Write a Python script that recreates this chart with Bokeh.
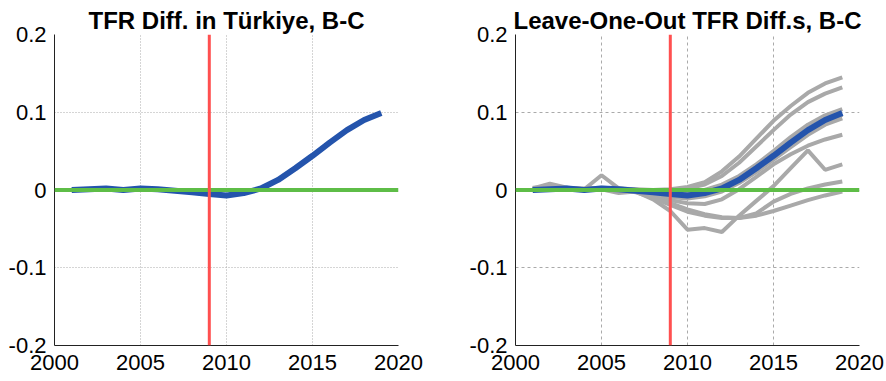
from bokeh.plotting import figure
from bokeh.layouts import row
from bokeh.models import Range1d, FixedTicker, Span
from bokeh.embed import file_html
from bokeh.resources import INLINE

# ---------------- data ----------------
years = list(range(2001, 2020))

tfr_diff = [0.000, 0.001, 0.002, 0.000, 0.002, 0.001, -0.001, -0.003, -0.005, -0.007,
            -0.004, 0.002, 0.013, 0.028, 0.044, 0.061, 0.077, 0.090, 0.099]

loo_1 = [0.003, 0.004, 0.002, 0.002, 0.003, 0.002, 0.001, 0.000, 0.001, 0.004,
         0.010, 0.024, 0.043, 0.066, 0.089, 0.108, 0.125, 0.137, 0.145]
loo_2 = [0.002, 0.008, 0.003, 0.001, 0.002, 0.001, 0.000, -0.001, 0.000, 0.002,
         0.007, 0.018, 0.035, 0.056, 0.077, 0.097, 0.113, 0.124, 0.132]
loo_3 = [0.001, 0.002, 0.003, 0.001, 0.019, 0.002, 0.000, -0.002, -0.003, -0.003,
         0.000, 0.007, 0.018, 0.033, 0.050, 0.068, 0.084, 0.096, 0.104]
loo_4 = [0.000, 0.001, 0.001, 0.000, 0.001, -0.004, -0.002, -0.005, -0.009, -0.011,
         -0.008, -0.002, 0.009, 0.023, 0.039, 0.055, 0.071, 0.084, 0.092]
loo_5 = [0.001, 0.002, 0.001, 0.001, 0.002, 0.001, -0.001, -0.003, -0.006, -0.008,
         -0.006, -0.001, 0.010, 0.025, 0.041, 0.058, 0.074, 0.087, 0.097]
loo_6 = [0.001, 0.000, 0.000, 0.001, 0.000, 0.000, -0.002, -0.007, -0.013, -0.017,
         -0.018, -0.012, 0.001, 0.017, 0.033, 0.046, 0.057, 0.065, 0.071]
loo_7 = [0.000, 0.001, 0.000, 0.001, 0.000, 0.000, -0.002, -0.012, -0.027, -0.051,
         -0.049, -0.054, -0.033, -0.014, 0.005, 0.028, 0.051, 0.026, 0.033]
loo_8 = [0.000, 0.000, 0.001, 0.000, 0.000, 0.000, -0.002, -0.008, -0.017, -0.025,
         -0.031, -0.035, -0.036, -0.030, -0.015, -0.005, 0.002, 0.007, 0.011]
loo_9 = [0.001, 0.000, 0.000, 0.000, 0.001, 0.000, -0.003, -0.010, -0.019, -0.028,
         -0.033, -0.036, -0.036, -0.033, -0.027, -0.020, -0.013, -0.007, -0.002]
loo_series = [loo_1, loo_2, loo_3, loo_4, loo_5, loo_6, loo_7, loo_8, loo_9]

treat_year = 2009
zero_level = 0.0

x_ticks = [2000, 2005, 2010, 2015, 2020]
y_ticks = [-0.2, -0.1, 0.0, 0.1, 0.2]
y_tick_labels = ["-0.2", "-0.1", "0", "0.1", "0.2"]
titles = ["TFR Diff. in Türkiye, B-C", "Leave-One-Out TFR Diff.s, B-C"]

# ---------------- style ----------------
BLUE = "#2454AC"
GRAY = "#A9A9A9"
RED = "#FF5050"
GREEN = "#5EBD47"
GRID = "#AAAAAA"
FONT = "Liberation Sans"
HEIGHT = 381


def make_panel(title, width, left, right, dash):
    p = figure(width=width, height=HEIGHT,
               x_range=Range1d(2000, 2020), y_range=Range1d(-0.2, 0.2),
               output_backend="svg", toolbar_location=None,
               min_border_left=left, min_border_right=right,
               min_border_top=34, min_border_bottom=36,
               title=title)
    p.title.text_font = FONT
    p.title.text_font_size = "24px"
    p.title.text_font_style = "bold"
    p.title.text_color = "black"
    p.title.align = "center"
    p.title.standoff = 2
    p.outline_line_color = None
    p.background_fill_color = "white"
    p.border_fill_color = "white"

    p.xaxis.ticker = FixedTicker(ticks=x_ticks)
    p.yaxis.ticker = FixedTicker(ticks=y_ticks)
    p.yaxis.major_label_overrides = dict(zip(y_ticks, y_tick_labels))
    for ax in (p.xaxis, p.yaxis):
        ax.axis_line_color = "#222222"
        ax.axis_line_width = 1
        ax.major_tick_out = 0
        ax.major_tick_in = 0
        ax.minor_tick_out = 0
        ax.minor_tick_in = 0
        ax.major_label_text_font = FONT
        ax.major_label_text_font_size = "22px"
        ax.major_label_text_color = "black"
    p.yaxis.major_label_standoff = 8
    p.xaxis.major_label_standoff = 9

    p.xgrid.ticker = FixedTicker(ticks=x_ticks)
    p.ygrid.ticker = FixedTicker(ticks=y_ticks)
    p.grid.grid_line_color = GRID
    p.grid.grid_line_dash = dash
    p.grid.grid_line_width = 1
    return p


p1 = make_panel(titles[0], 440, 54, 42, "1 2")
p1.line(years, tfr_diff, line_color=BLUE, line_width=6)
p1.add_layout(Span(location=zero_level, dimension="width", line_color=GREEN, line_width=4))
p1.add_layout(Span(location=treat_year, dimension="height", line_color=RED, line_width=3))

p2 = make_panel(titles[1], 444, 75, 25, "3 3")
for s in loo_series:
    p2.line(years, s, line_color=GRAY, line_width=4)
p2.line(years, tfr_diff, line_color=BLUE, line_width=6)
p2.add_layout(Span(location=zero_level, dimension="width", line_color=GREEN, line_width=4))
p2.add_layout(Span(location=treat_year, dimension="height", line_color=RED, line_width=3))

layout = row(p1, p2)
open("out.html", "w").write(file_html(layout, INLINE))
